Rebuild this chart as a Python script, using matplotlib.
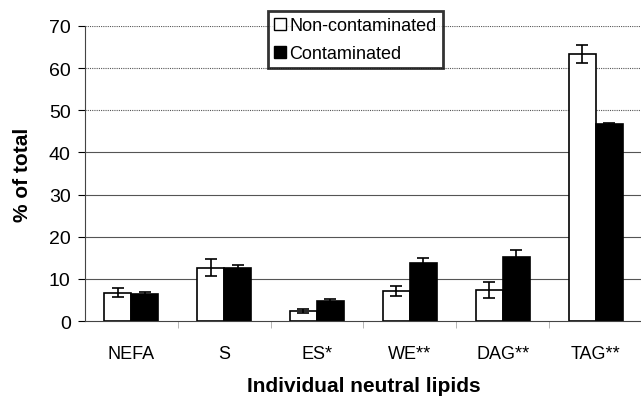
import numpy as np
import matplotlib.pyplot as plt
from matplotlib.patches import Patch

plt.rcParams['font.family'] = ['Liberation Sans', 'DejaVu Sans']

# donnees
lipides = ['NEFA', 'S', 'ES*', 'WE**', 'DAG**', 'TAG**']
non_cont = [6.7, 12.6, 2.4, 7.2, 7.4, 63.3]
non_cont_err = [1.1, 2.0, 0.5, 1.2, 1.9, 2.1]
cont = [6.4, 12.6, 4.7, 13.8, 15.3, 46.7]
cont_err = [0.5, 0.6, 0.5, 1.2, 1.5, 0.3]

fig = plt.figure(figsize=(6.41, 4.02), dpi=100)
ax = fig.add_axes([0.132, 0.199, 0.87, 0.734])

x = np.arange(len(lipides))
w = 0.29

# lignes de grille horizontales
for yv in range(10, 71, 10):
    ax.axhline(yv, color='#555555', lw=0.8, ls=(0, (1, 1)) if yv >= 50 else '-', zorder=0)

ax.bar(x - w/2, non_cont, w, color='white', edgecolor='black', lw=1.2, zorder=2)
ax.bar(x + w/2, cont, w, color='black', edgecolor='black', lw=1.2, zorder=2)
ax.errorbar(x - w/2, non_cont, yerr=non_cont_err, fmt='none', ecolor='black',
            elinewidth=1.2, capsize=4, capthick=1.2, zorder=3)
ax.errorbar(x + w/2, cont, yerr=cont_err, fmt='none', ecolor='black',
            elinewidth=1.2, capsize=4, capthick=1.2, zorder=3)

ax.set_xlim(-0.5, len(lipides) - 0.5)
ax.set_ylim(0, 70)
ax.set_yticks(range(0, 71, 10))
ax.set_xticks(x)
ax.set_xticklabels(lipides, fontsize=13)
ax.set_xticks(np.arange(0.5, len(lipides) - 0.5), minor=True)
ax.tick_params(axis='x', which='major', length=0, pad=17)
ax.tick_params(axis='x', which='minor', length=5, color='#aaaaaa', direction='out')
ax.tick_params(axis='y', labelsize=14, length=5, width=0.8, pad=5)

ax.spines['top'].set_visible(False)
ax.spines['right'].set_visible(False)
ax.spines['left'].set_color('#444444')
ax.spines['bottom'].set_color('#444444')

ax.set_ylabel('% of total', fontsize=15, fontweight='bold', labelpad=12)
ax.set_xlabel('Individual neutral lipids', fontsize=15, fontweight='bold', labelpad=10)

poignees = [Patch(facecolor='white', edgecolor='black', lw=1),
            Patch(facecolor='black', edgecolor='black', lw=1)]
leg = ax.legend(poignees, ['Non-contaminated', 'Contaminated'], loc='upper left',
                bbox_to_anchor=(0.328, 1.051), fontsize=13, frameon=True, fancybox=False,
                handlelength=0.65, handleheight=0.65, handletextpad=0.2,
                borderpad=0.35, labelspacing=0.6, borderaxespad=0)
leg.get_frame().set_edgecolor('black')
leg.get_frame().set_linewidth(2)

fig.savefig('out.png', dpi=100)
